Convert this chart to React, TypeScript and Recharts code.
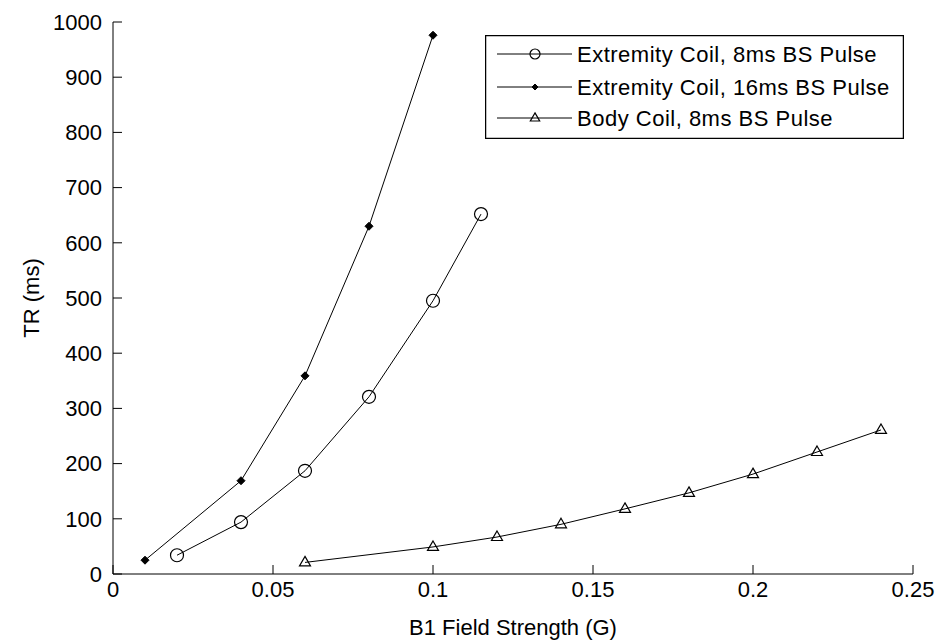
import React from "react";
import { LineChart, Line, XAxis, YAxis, Legend } from "recharts";

// B1 field strength (G) vs TR (ms)
const xExt8 = [0.02, 0.04, 0.06, 0.08, 0.1, 0.115];
const trExt8 = [34, 94, 187, 321, 495, 652];

const xExt16 = [0.01, 0.04, 0.06, 0.08, 0.1];
const trExt16 = [25, 169, 359, 630, 976];

const xBody8 = [0.06, 0.1, 0.12, 0.14, 0.16, 0.18, 0.2, 0.22, 0.24];
const trBody8 = [21, 49, 67, 90, 118, 147, 181, 221, 261];

const xTicks = [0, 0.05, 0.1, 0.15, 0.2, 0.25];
const yTicks = [0, 100, 200, 300, 400, 500, 600, 700, 800, 900, 1000];

const seriesNames = [
  "Extremity Coil, 8ms BS Pulse",
  "Extremity Coil, 16ms BS Pulse",
  "Body Coil, 8ms BS Pulse",
];

const FONT = "'Liberation Sans', Arial, sans-serif";
const tickStyle = { fontSize: 22, fill: "#000", fontFamily: FONT };

const toRows = (xs: number[], ys: number[]) => xs.map((x, i) => ({ x, y: ys[i] }));

function Circle(cx: number, cy: number, key?: any, r = 6.5) {
  return <circle key={key} cx={cx} cy={cy} r={r} fill="none" stroke="#000" strokeWidth={1.2} />;
}
function Diamond(cx: number, cy: number, key?: any, s = 4) {
  return (
    <path
      key={key}
      d={`M${cx},${cy - s}L${cx + s},${cy}L${cx},${cy + s}L${cx - s},${cy}Z`}
      fill="#000"
      stroke="#000"
    />
  );
}
function Triangle(cx: number, cy: number, key?: any, s = 1) {
  return (
    <path
      key={key}
      d={`M${cx},${cy - 6 * s}L${cx + 5.5 * s},${cy + 3.5 * s}L${cx - 5.5 * s},${cy + 3.5 * s}Z`}
      fill="none"
      stroke="#000"
      strokeWidth={1.2}
    />
  );
}

function LegendBox() {
  const rowY = [19, 52, 83];
  const marks = [
    Circle(50, rowY[0], "m0", 5),
    Diamond(50, rowY[1], "m1", 3),
    Triangle(50, rowY[2], "m2", 0.85),
  ];
  return (
    <svg width={419} height={104} style={{ display: "block" }}>
      <rect x={0.5} y={0.5} width={418} height={103} fill="#fff" stroke="#000" strokeWidth={1.5} />
      {seriesNames.map((name, i) => (
        <g key={name}>
          <line x1={12} x2={87} y1={rowY[i]} y2={rowY[i]} stroke="#000" strokeWidth={1} />
          {marks[i]}
          <text
            x={92}
            y={rowY[i] + 8}
            fontSize={22}
            fontFamily={FONT}
            letterSpacing={0.5}
            fill="#000"
          >
            {name}
          </text>
        </g>
      ))}
    </svg>
  );
}

export default function App() {
  return (
    <div style={{ position: "absolute", left: 0, top: 0, background: "#fff" }}>
      <LineChart
        width={950}
        height={641}
        margin={{ top: 22, right: 37, bottom: 0, left: 0 }}
      >
        <XAxis
          type="number"
          dataKey="x"
          domain={[0, 0.25]}
          ticks={xTicks}
          tickSize={-9}
          tickMargin={16}
          height={67}
          stroke="#000"
          tick={tickStyle}
          allowDataOverflow
          label={{
            value: "B1 Field Strength (G)",
            position: "insideBottom",
            offset: 6,
            style: { fontSize: 22, fill: "#000", fontFamily: FONT },
          }}
        />
        <XAxis
          xAxisId="top"
          orientation="top"
          type="number"
          dataKey="x"
          domain={[0, 0.25]}
          ticks={xTicks}
          tickSize={-9}
          height={0}
          stroke="#000"
          tick={false}
        />
        <YAxis
          type="number"
          domain={[0, 1000]}
          ticks={yTicks}
          tickSize={-9}
          tickMargin={20}
          width={113}
          stroke="#000"
          tick={tickStyle}
          allowDataOverflow
          label={() => (
            <text
              x={31}
              y={298}
              transform="rotate(-90 31 298)"
              textAnchor="middle"
              dominantBaseline="central"
              fontSize={22}
              fontFamily={FONT}
              fill="#000"
            >
              TR (ms)
            </text>
          )}
        />
        <YAxis
          yAxisId="right"
          orientation="right"
          type="number"
          domain={[0, 1000]}
          ticks={yTicks}
          tickSize={-9}
          width={0}
          stroke="#000"
          tick={false}
        />
        <Legend
          layout="vertical"
          align="center"
          verticalAlign="middle"
          wrapperStyle={{ left: 485, top: 35, width: 419, height: 104 }}
          content={() => <LegendBox />}
        />
        <Line
          data={toRows(xExt8, trExt8)}
          dataKey="y"
          name={seriesNames[0]}
          stroke="#000"
          strokeWidth={1}
          isAnimationActive={false}
          dot={(p: any) => Circle(p.cx, p.cy, p.index)}
        />
        <Line
          data={toRows(xExt16, trExt16)}
          dataKey="y"
          name={seriesNames[1]}
          stroke="#000"
          strokeWidth={1}
          isAnimationActive={false}
          dot={(p: any) => Diamond(p.cx, p.cy, p.index)}
        />
        <Line
          data={toRows(xBody8, trBody8)}
          dataKey="y"
          name={seriesNames[2]}
          stroke="#000"
          strokeWidth={1}
          isAnimationActive={false}
          dot={(p: any) => Triangle(p.cx, p.cy, p.index)}
        />
      </LineChart>
    </div>
  );
}
